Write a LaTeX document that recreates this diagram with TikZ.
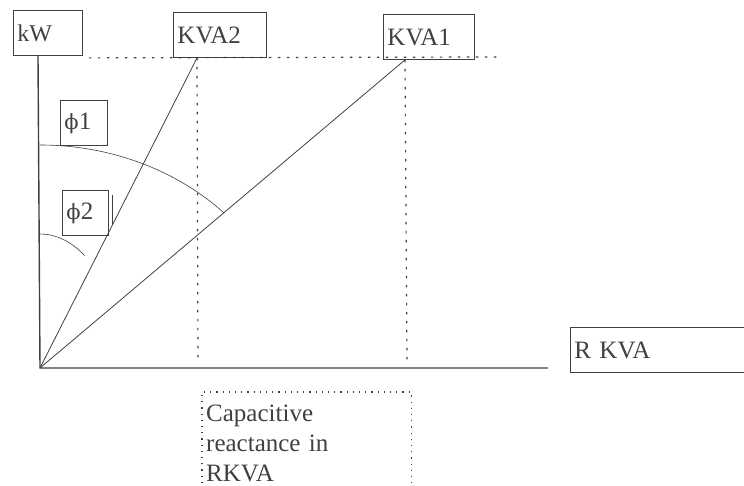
\documentclass[tikz,border=0pt]{standalone}
\usepackage{fontspec}
\setmainfont{Liberation Serif}
\newfontfamily\phifont{DejaVu Serif}
\usetikzlibrary{positioning, calc}
\definecolor{ink}{gray}{0.25}

\begin{document}
\begin{tikzpicture}[
  x=1pt, y=1pt,
  every node/.style={font=\fontsize{25}{29}\selectfont, text=ink},
  lbl/.style={draw=ink, line width=0.9pt, rectangle, anchor=north west,
              inner xsep=4pt, inner ysep=0pt, minimum height=45pt, align=left},
  ln/.style={draw=ink, line width=0.8pt},
  ax/.style={draw=ink, line width=1.4pt},
  dots/.style={draw=ink, line width=1.2pt, dash pattern=on 2.5pt off 6.5pt}
]
\useasboundingbox (0,0) rectangle (744,486);

% labels along the top
\node[lbl, text width=61pt, font=\fontsize{24}{28}\selectfont] (kw) at (13,476) {kW};
\node[lbl, text width=85pt] (kva2) at (173,474) {KVA2};
\node[lbl, text width=83pt] (kva1) at (383,472) {KVA1};

% angle labels
\node[lbl, text width=39pt] (phi1) at (60,386) {{\phifont\fontsize{21}{25}\selectfont ϕ}1};
\node[lbl, text width=38pt] (phi2) at (62,296) {{\phifont\fontsize{21}{25}\selectfont ϕ}2};

% right and bottom labels
\node[lbl, text width=172pt] (rkva) at (570,159) {R KVA};
\node[anchor=north west, inner xsep=4pt, inner ysep=13pt, text width=201pt,
      align=left, font=\fontsize{25}{30}\selectfont] (cap) at (202,94)
      {Capacitive\\reactance in\\RKVA};

% points
\coordinate (o) at (40,118);
\coordinate (top) at ($(kw.south west)+(25,0)$);
\coordinate (xend) at (548,118);
\coordinate (p2) at ($(kva2.south west)+(24,0)$);
\coordinate (p1) at ($(kva1.south west)+(22,0)$);
\coordinate (t0) at ($(kw.south east)+(6,-2)$);
\coordinate (t1) at (497,429);

% axes
\draw[ax] (top) -- (o) -- (xend);

% kva lines
\draw[ln] (o) -- (p2);
\draw[ln] (o) -- (p1);

% dotted guides
\draw[dots] (t0) -- (t1);
\draw[dots] (p2) -- ($(p2 |- o)+(1,5)$);
\draw[dots] (p1) -- ($(p1 |- o)+(2,5)$);
\draw[dots, dash pattern=on 1.2pt off 5pt] (cap.south west) |- (cap.north east) -- (cap.south east);

% angle arcs
\draw[ln, line width=0.6pt] (o) ++(0,223) arc[start angle=90, end angle=44, x radius=256, y radius=223];
\draw[ln, line width=0.6pt] (o) ++(0,134) arc[start angle=90, end angle=57, x radius=82, y radius=134];
\draw[ln, line width=1pt] ($(phi2.north east)+(4,-5)$) -- ($(phi2.south east)+(4,11)$);
\end{tikzpicture}
\end{document}
